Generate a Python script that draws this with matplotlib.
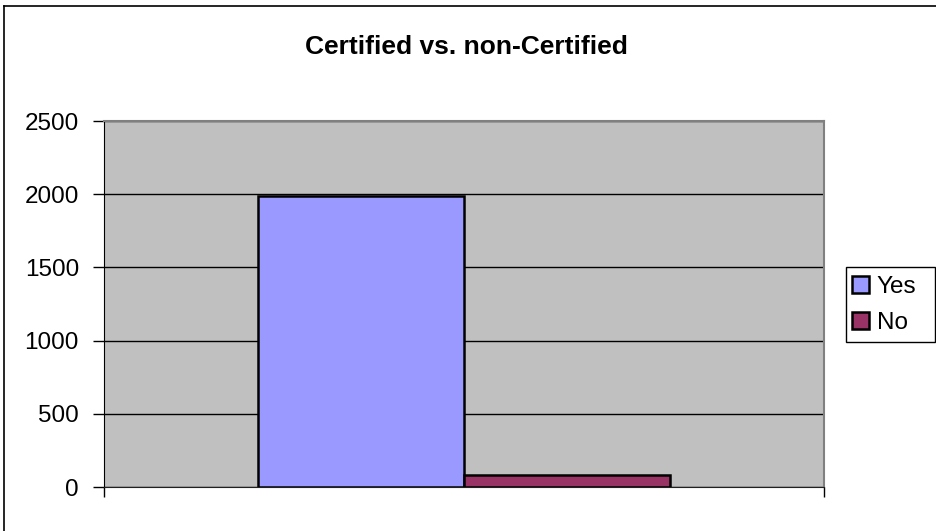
import matplotlib.pyplot as plt
from matplotlib.patches import Patch, Rectangle
from matplotlib.lines import Line2D

# chart data
series = ['Yes', 'No']
values = [1990, 85]
colors = ['#9999FF', '#993366']
y_ticks = [0, 500, 1000, 1500, 2000, 2500]

plt.rcParams['font.family'] = ['Liberation Sans', 'DejaVu Sans']

fig = plt.figure(figsize=(9.37, 5.31), dpi=100)
ax = fig.add_axes([104 / 937, 1 - 487 / 531, 720 / 937, 366 / 531])
ax.set_facecolor('#C0C0C0')

# grouped bars for the single category
bar_w = 0.286
offsets = [-bar_w / 2, bar_w / 2]
for name, val, col, off in zip(series, values, colors, offsets):
    ax.bar(off, val, width=bar_w, color=col, edgecolor='black',
           linewidth=1.8, label=name, zorder=3)

ax.set_xlim(-0.5, 0.5)
ax.set_ylim(0, 2500)
ax.set_yticks(y_ticks)
ax.set_yticklabels([str(t) for t in y_ticks], fontsize=17.5)
ax.yaxis.grid(True, color='black', linewidth=1, zorder=0)
ax.set_axisbelow(True)
ax.tick_params(axis='y', direction='out', length=8, width=1, pad=10)
ax.set_xticks([-0.5, 0.5])
ax.set_xticklabels(['', ''])
ax.tick_params(axis='x', direction='out', length=7, width=1)

ax.spines['left'].set_color('black')
ax.spines['bottom'].set_color('#202020')
ax.spines['top'].set_color('#808080')
ax.spines['right'].set_color('#808080')
ax.spines['top'].set_linewidth(1.5)
ax.spines['right'].set_linewidth(1.5)

fig.text(466 / 937, 1 - 47 / 531, 'Certified vs. non-Certified',
         ha='center', va='center', fontsize=19, fontweight='bold')

# legend without frame, box drawn separately
handles = [Patch(facecolor=c, edgecolor='black', linewidth=1.8) for c in colors]
leg = fig.legend(handles, series, loc='upper left',
                 bbox_to_anchor=(852 / 937, 1 - 276 / 531),
                 fontsize=17.5, frameon=False,
                 handlelength=0.72, handleheight=0.72, handletextpad=0.3,
                 borderpad=0.0, labelspacing=0.55, borderaxespad=0)
fig.add_artist(Rectangle((846 / 937, 1 - 342 / 531), 89.5 / 937, 75 / 531,
                         transform=fig.transFigure, facecolor='white',
                         edgecolor='black', linewidth=1, zorder=-1))

# outer chart border (left and top visible)
fig.add_artist(Line2D([4 / 937, 4 / 937], [0, 1 - 6 / 531], color='black', lw=1.2))
fig.add_artist(Line2D([4 / 937, 1], [1 - 6 / 531, 1 - 6 / 531], color='black', lw=1.2))

fig.savefig('out.png', dpi=100)
